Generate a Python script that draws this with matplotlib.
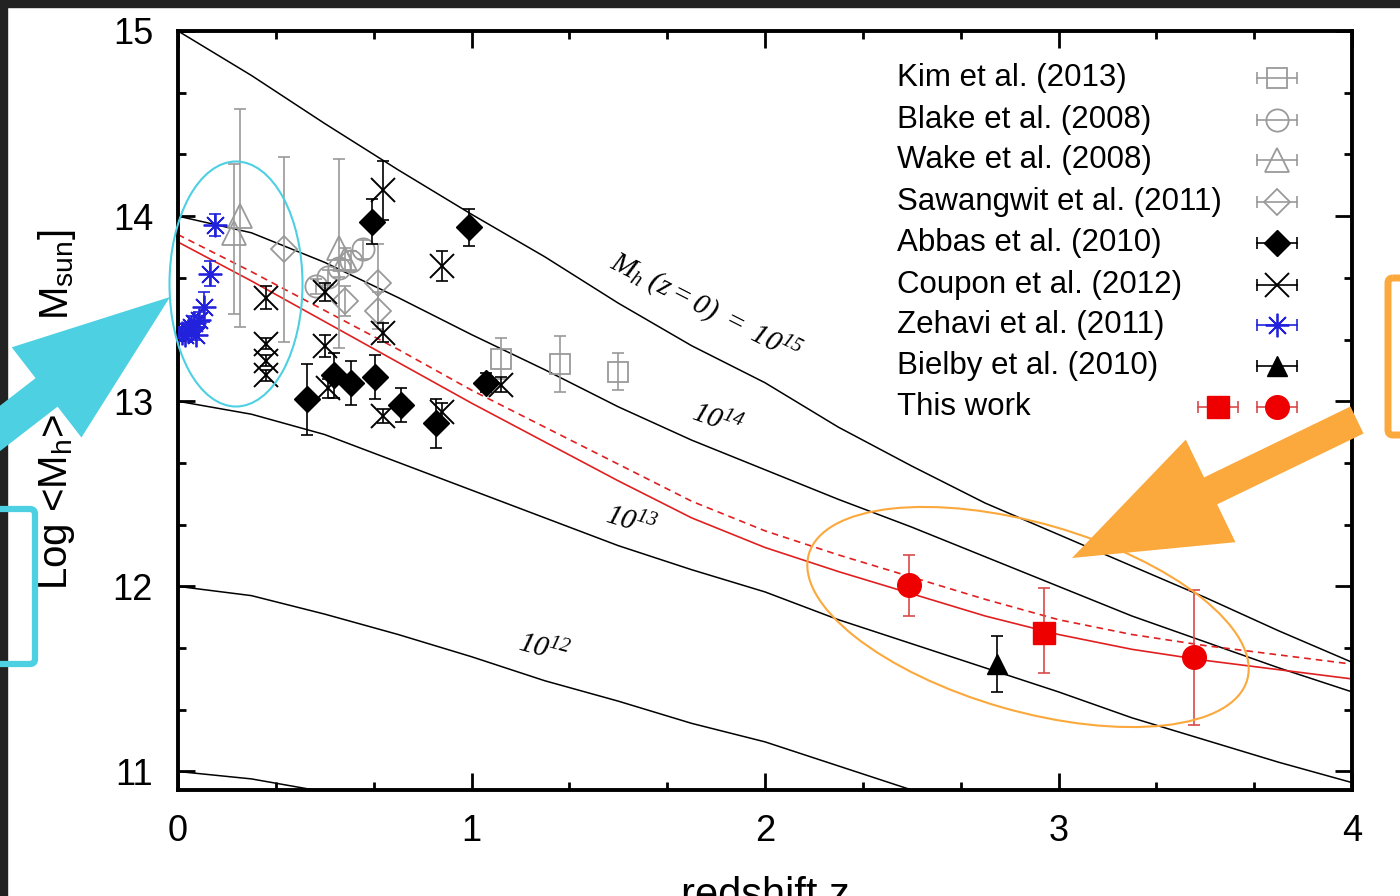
import numpy as np
import matplotlib
matplotlib.use('Agg')
import matplotlib.pyplot as plt
from matplotlib.patches import Ellipse, Polygon, Rectangle, FancyBboxPatch
from matplotlib.ticker import MultipleLocator

plt.rcParams['font.family'] = 'Liberation Sans'
plt.rcParams['mathtext.fontset'] = 'custom'
plt.rcParams['mathtext.rm'] = 'Liberation Serif:italic'
plt.rcParams['mathtext.it'] = 'Liberation Serif:italic'
plt.rcParams['mathtext.sf'] = 'Liberation Sans'

# ---- halo mass growth tracks ----
z_grid = [0.0, 0.25, 0.5, 0.75, 1.0, 1.25, 1.5, 1.75, 2.0, 2.25, 2.5, 2.75, 3.0, 3.25, 3.5, 3.75, 4.0]
track_15 = [15.00, 14.76, 14.50, 14.25, 14.01, 13.78, 13.53, 13.30, 13.10, 12.86, 12.65, 12.45, 12.28, 12.11, 11.94, 11.76, 11.59]
track_14 = [14.00, 13.91, 13.75, 13.56, 13.36, 13.17, 12.97, 12.79, 12.63, 12.47, 12.32, 12.16, 12.00, 11.84, 11.70, 11.56, 11.43]
track_13 = [13.00, 12.93, 12.82, 12.67, 12.52, 12.37, 12.22, 12.09, 11.97, 11.82, 11.69, 11.56, 11.43, 11.29, 11.17, 11.05, 10.94]
track_12_z = [0.0, 0.25, 0.5, 0.75, 1.0, 1.25, 1.5, 1.75, 2.0, 2.25, 2.5, 2.75]
track_12 = [12.00, 11.95, 11.85, 11.74, 11.62, 11.49, 11.38, 11.26, 11.16, 11.03, 10.90, 10.78]
track_11_z = [0.0, 0.25, 0.5, 0.75]
track_11 = [11.00, 10.96, 10.89, 10.80]

# this work: model curves
fit_solid = [13.86, 13.65, 13.43, 13.21, 12.99, 12.78, 12.57, 12.37, 12.21, 12.08, 11.96, 11.84, 11.74, 11.66, 11.60, 11.55, 11.50]
fit_dashed = [13.90, 13.70, 13.49, 13.28, 13.06, 12.86, 12.66, 12.46, 12.30, 12.17, 12.05, 11.93, 11.82, 11.74, 11.68, 11.63, 11.58]

# ---- literature points ----
kim_z = [1.10, 1.30, 1.50]
kim_m = [13.23, 13.20, 13.16]
kim_err = [0.11, 0.15, 0.10]

blake_z = [0.47, 0.51, 0.55, 0.59, 0.63]
blake_m = [13.62, 13.67, 13.72, 13.76, 13.82]
blake_err = [0.04, 0.04, 0.05, 0.05, 0.05]

wake_z = [0.21, 0.19, 0.55, 0.57]
wake_m = [14.00, 13.91, 13.83, 13.77]
wake_lo = [0.60, 0.44, 0.54, 0.06]
wake_hi = [0.58, 0.37, 0.48, 0.06]

saw_z = [0.36, 0.57, 0.68, 0.68]
saw_m = [13.82, 13.54, 13.64, 13.49]
saw_err = [0.50, 0.08, 0.21, 0.10]

abbas_z = [0.44, 0.53, 0.59, 0.67, 0.76, 0.88, 1.05, 0.66, 0.99]
abbas_m = [13.01, 13.14, 13.10, 13.13, 12.98, 12.88, 13.10, 13.97, 13.94]
abbas_err = [0.19, 0.12, 0.12, 0.12, 0.09, 0.13, 0.05, 0.12, 0.10]

coupon_z = [0.70, 0.90, 0.30, 0.30, 0.30, 0.30, 0.50, 0.50, 0.51, 0.70, 0.70, 0.90, 1.10]
coupon_m = [14.14, 13.73, 13.56, 13.31, 13.22, 13.14, 13.59, 13.30, 13.07, 13.37, 12.92, 12.94, 13.09]
coupon_err = [0.16, 0.08, 0.06, 0.03, 0.03, 0.03, 0.05, 0.06, 0.05, 0.05, 0.04, 0.05, 0.04]

zehavi_z = [0.125, 0.11, 0.09, 0.07, 0.055, 0.045, 0.035, 0.025, 0.015, 0.06]
zehavi_m = [13.95, 13.69, 13.51, 13.44, 13.42, 13.40, 13.38, 13.36, 13.37, 13.36]
zehavi_err = [0.06, 0.07, 0.08, 0.04, 0.04, 0.03, 0.03, 0.03, 0.03, 0.03]

bielby_z = [2.79]
bielby_m = [11.58]
bielby_err = [0.15]

tw_circ_z = [2.49, 3.46]
tw_circ_m = [12.01, 11.62]
tw_circ_lo = [0.17, 0.37]
tw_circ_hi = [0.16, 0.36]
tw_sq_z = [2.95]
tw_sq_m = [11.75]
tw_sq_lo = [0.22]
tw_sq_hi = [0.24]

legend_labels = ['Kim et al. (2013)', 'Blake et al. (2008)', 'Wake et al. (2008)',
                 'Sawangwit et al. (2011)', 'Abbas et al. (2010)', 'Coupon et al. (2012)',
                 'Zehavi et al. (2011)', 'Bielby et al. (2010)', 'This work']

gray = '#9a9a9a'
red = '#ee0000'
red_bar = '#d84a4a'
blue = '#2222dd'
styles = [
    dict(marker='s', ms=15, mfc='none', mec=gray, mew=1.3, color=gray),
    dict(marker='o', ms=16, mfc='none', mec=gray, mew=1.3, color=gray),
    dict(marker='^', ms=17, mfc='none', mec=gray, mew=1.3, color=gray),
    dict(marker='D', ms=13, mfc='none', mec=gray, mew=1.3, color=gray),
    dict(marker='D', ms=13, mfc='black', mec='black', mew=1, color='black'),
    dict(marker='x', ms=17, mfc='none', mec='black', mew=1.4, color='black'),
    dict(marker=(8, 2, 0), ms=17, mfc='none', mec=blue, mew=1.3, color=blue),
    dict(marker='^', ms=15, mfc='black', mec='black', mew=1, color='black'),
]
sq_style = dict(marker='s', ms=16, mfc=red, mec=red, mew=1, color=red_bar)
circ_style = dict(marker='o', ms=17, mfc=red, mec=red, mew=1, color=red_bar)

fig = plt.figure(figsize=(14, 8.96), dpi=100)
ax = fig.add_axes([178 / 1400, 1 - 790 / 896, 1174 / 1400, 759 / 896])

for zz, mm in [(z_grid, track_15), (z_grid, track_14), (z_grid, track_13),
               (track_12_z, track_12), (track_11_z, track_11)]:
    ax.plot(zz, mm, color='black', lw=1.1, zorder=2)
ax.plot(z_grid, fit_solid, color='#e02020', lw=1.2, zorder=2)
ax.plot(z_grid, fit_dashed, color='#e02020', lw=1.2, ls=(0, (4, 3)), zorder=2)

def eb(z, m, lo, hi, st, zo=3):
    ax.errorbar(z, m, yerr=[lo, hi], fmt='none', ecolor=st['color'], elinewidth=1.2,
                capsize=4.5, capthick=1.2, zorder=zo)
    ax.plot(z, m, ls='none', marker=st['marker'], ms=st['ms'], mfc=st['mfc'],
            mec=st['mec'], mew=st['mew'], zorder=zo + 0.5)

eb(kim_z, kim_m, kim_err, kim_err, styles[0])
eb(blake_z, blake_m, blake_err, blake_err, styles[1])
eb(wake_z, wake_m, wake_lo, wake_hi, styles[2])
eb(saw_z, saw_m, saw_err, saw_err, styles[3])
eb(abbas_z, abbas_m, abbas_err, abbas_err, styles[4], 4)
eb(coupon_z, coupon_m, coupon_err, coupon_err, styles[5], 4)
eb(zehavi_z, zehavi_m, zehavi_err, zehavi_err, styles[6], 4)
eb(bielby_z, bielby_m, bielby_err, bielby_err, styles[7], 4)
eb(tw_sq_z, tw_sq_m, tw_sq_lo, tw_sq_hi, sq_style, 5)
eb(tw_circ_z, tw_circ_m, tw_circ_lo, tw_circ_hi, circ_style, 5)

ax.set_xlim(0, 4)
ax.set_ylim(10.9, 15)
ax.set_xticks([0, 1, 2, 3, 4])
ax.set_yticks([11, 12, 13, 14, 15])
ax.xaxis.set_minor_locator(MultipleLocator(1 / 3))
ax.yaxis.set_minor_locator(MultipleLocator(1 / 3))
ax.tick_params(which='both', direction='in', top=True, right=True, width=2)
ax.tick_params(which='major', length=12, labelsize=26)
ax.tick_params(which='minor', length=6)
ax.tick_params(axis='x', which='major', pad=17)
ax.tick_params(axis='y', which='major', pad=18)
for sp in ax.spines.values():
    sp.set_linewidth(2.8)

# track labels
tk = dict(fontsize=21, ha='center', va='center', rotation_mode='anchor', zorder=6)
ax.text(1.796, 13.505, r'$M_h\ (z=0)\ =\ 10^{15}$', rotation=-27, **tk)
ax.text(1.836, 12.895, r'$10^{14}$', rotation=-20, **tk)
ax.text(1.543, 12.35, r'$10^{13}$', rotation=-17, **tk)
ax.text(1.244, 11.66, r'$10^{12}$', rotation=-15, **tk)

# y label in pieces (the middle sits behind the cyan arrow)
fig.text(57 / 1400, 1 - 590 / 896, r'Log <M$_\mathsf{h}$>', rotation=90,
         fontsize=29, ha='center', va='bottom')
fig.text(57 / 1400, 1 - 365 / 896, '[', rotation=90, fontsize=29, ha='center', va='center')
fig.text(57 / 1400, 1 - 230 / 896, r'M$_\mathsf{sun}$]', rotation=90,
         fontsize=29, ha='center', va='top')
fig.text(765 / 1400, 1 - 876 / 896, 'redshift z', fontsize=30, ha='center', va='top')

# overlay in pixel coordinates: legend + screenshot annotations
ov = fig.add_axes([0, 0, 1, 1], zorder=10)
ov.set_xlim(0, 1400)
ov.set_ylim(896, 0)
ov.axis('off')
ov.patch.set_alpha(0)

row_y = [78, 120, 160, 202, 243, 285, 325, 366, 407]
for i, lab in enumerate(legend_labels):
    ov.text(897, row_y[i], lab, fontsize=22.5, va='center', ha='left')
def leg_sample(xc, y, st):
    ov.plot([xc - 20, xc + 20], [y, y], color=st['color'], lw=1.2)
    ov.plot([xc - 20, xc + 20], [y, y], ls='none', marker='|', ms=8, mew=1.2, color=st['color'])
    ov.plot([xc], [y], ls='none', marker=st['marker'], ms=st['ms'], mfc=st['mfc'],
            mec=st['mec'], mew=st['mew'])
for i, st in enumerate(styles):
    leg_sample(1277, row_y[i], st)
leg_sample(1218, row_y[8], sq_style)
leg_sample(1277, row_y[8], circ_style)

dark = '#222222'
ov.add_patch(Rectangle((0, 0), 1400, 7, color=dark, zorder=1))
ov.add_patch(Rectangle((0, 0), 7, 896, color=dark, zorder=1))

cyan = '#4dd0e1'
orange = '#fba83c'

def arrow_poly(tip, tail, head_len, head_hw, shaft_hw):
    tip = np.array(tip, float)
    tail = np.array(tail, float)
    u = (tip - tail) / np.linalg.norm(tip - tail)
    p = np.array([-u[1], u[0]])
    base = tip - u * head_len
    return [tail + p * shaft_hw, base + p * shaft_hw, base + p * head_hw, tip,
            base - p * head_hw, base - p * shaft_hw, tail - p * shaft_hw]

ov.add_patch(Polygon(arrow_poly((170, 297), (-81, 491), 156, 57, 18), closed=True,
                     color=cyan, lw=0, zorder=3))
ov.add_patch(Polygon(arrow_poly((1072, 558), (1357, 420), 154, 57, 15), closed=True,
                     color=orange, lw=0, zorder=3))
ov.add_patch(Ellipse((236, 284), 133, 245, fill=False, ec=cyan, lw=1.5, zorder=3))
ov.add_patch(Ellipse((1028, 617), 456, 188, angle=16, fill=False, ec=orange, lw=1.5, zorder=3))
ov.add_patch(FancyBboxPatch((1388, 278), 60, 157, boxstyle='round,pad=0,rounding_size=5',
                            fill=False, ec=orange, lw=5, zorder=3))
ov.add_patch(FancyBboxPatch((-40, 509), 75, 155, boxstyle='round,pad=0,rounding_size=5',
                            fill=False, ec=cyan, lw=4.5, zorder=3))

fig.savefig('out.png', dpi=100)
